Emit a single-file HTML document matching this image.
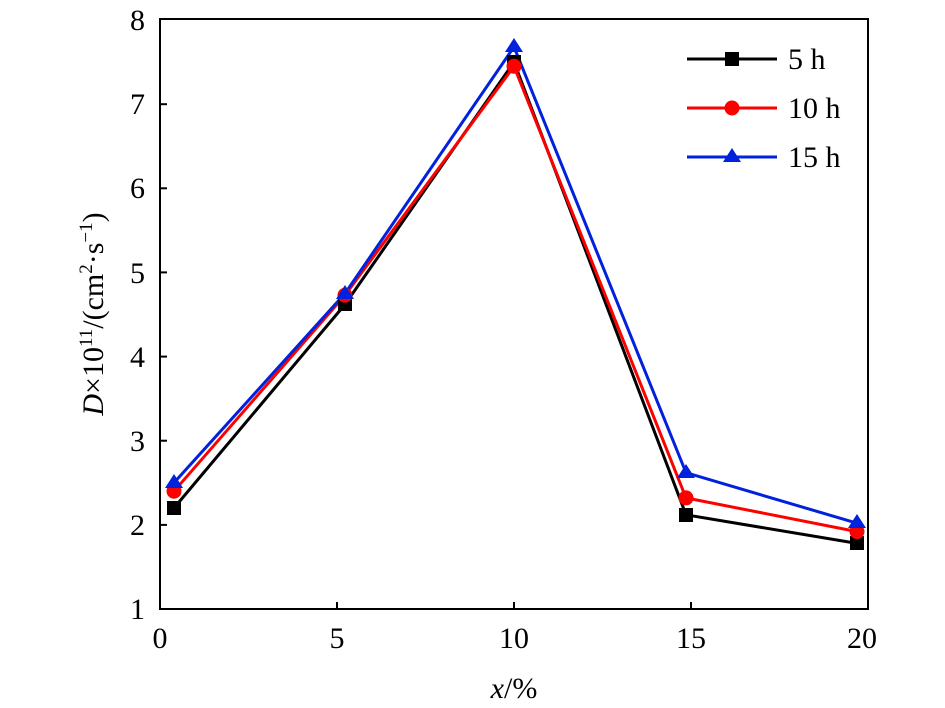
<!DOCTYPE html>
<html><head><style>body{margin:0;background:#fff}svg{display:block}</style></head><body>
<svg width="945" height="708" viewBox="0 0 945 708" xmlns="http://www.w3.org/2000/svg" font-family="Liberation Serif, serif">
<rect x="160" y="19" width="708" height="590" fill="none" stroke="#000" stroke-width="2"/>
<g stroke="#000" stroke-width="2">
<line x1="160" y1="524.9" x2="167" y2="524.9"/><line x1="160" y1="440.7" x2="167" y2="440.7"/><line x1="160" y1="356.6" x2="167" y2="356.6"/><line x1="160" y1="272.4" x2="167" y2="272.4"/><line x1="160" y1="188.3" x2="167" y2="188.3"/><line x1="160" y1="104.2" x2="167" y2="104.2"/>
<line x1="337" y1="609" x2="337" y2="602"/><line x1="514" y1="609" x2="514" y2="602"/><line x1="691" y1="609" x2="691" y2="602"/>
</g>
<g font-size="30" text-anchor="end">
<text x="145" y="619">1</text><text x="145" y="535">2</text><text x="145" y="451">3</text><text x="145" y="367">4</text><text x="145" y="283">5</text><text x="145" y="198">6</text><text x="145" y="114">7</text><text x="145" y="30">8</text>
</g>
<g font-size="30" text-anchor="middle">
<text x="160" y="648">0</text><text x="337" y="648">5</text><text x="514" y="648">10</text><text x="691" y="648">15</text><text x="862" y="648">20</text>
<text x="514" y="698"><tspan font-style="italic">x</tspan>/%</text>
</g>
<text transform="translate(103,314) rotate(-90)" font-size="30" text-anchor="middle"><tspan font-style="italic">D</tspan>×10<tspan font-size="19" dy="-11">11</tspan><tspan dy="11">/(cm</tspan><tspan font-size="19" dy="-11">2</tspan><tspan dy="11">·s</tspan><tspan font-size="19" dy="-11">−1</tspan><tspan dy="11">)</tspan></text>
<g fill="none" stroke-width="3">
<polyline stroke="#000" points="174,508 345,304.4 514,62.1 686,514.8 857,543.4"/>
<polyline stroke="#f00" points="174,491.2 345,295.2 514,66.3 686,497.9 857,531.6"/>
<polyline stroke="#0022dd" points="174,482.8 345,293.5 514,46.9 686,472.7 857,523.2"/>
</g>
<g fill="#000">
<rect x="167" y="501" width="14" height="14"/><rect x="338" y="297" width="14" height="14"/><rect x="507" y="55" width="14" height="14"/><rect x="679" y="508" width="14" height="14"/><rect x="850" y="536" width="14" height="14"/>
</g>
<g fill="#f00">
<circle cx="174" cy="491.2" r="7.5"/><circle cx="345" cy="295.2" r="7.5"/><circle cx="514" cy="66.3" r="7.5"/><circle cx="686" cy="497.9" r="7.5"/><circle cx="857" cy="531.6" r="7.5"/>
</g>
<g fill="#0022dd">
<polygon points="174,474 165,488 183,488"/><polygon points="345,285 336,299 354,299"/><polygon points="514,38 505,52 523,52"/><polygon points="686,464 677,478 695,478"/><polygon points="857,514 848,528 866,528"/>
</g>
<g stroke-width="3">
<line x1="687" y1="59" x2="777" y2="59" stroke="#000"/><rect x="725" y="52" width="14" height="14" fill="#000"/>
<line x1="687" y1="108" x2="777" y2="108" stroke="#f00"/><circle cx="732" cy="108" r="7.5" fill="#f00"/>
<line x1="687" y1="157" x2="777" y2="157" stroke="#0022dd"/><polygon points="732,148 723,162 741,162" fill="#0022dd"/>
</g>
<g font-size="30">
<text x="788" y="69">5 h</text><text x="788" y="118">10 h</text><text x="788" y="167">15 h</text>
</g>
</svg>
</body></html>
